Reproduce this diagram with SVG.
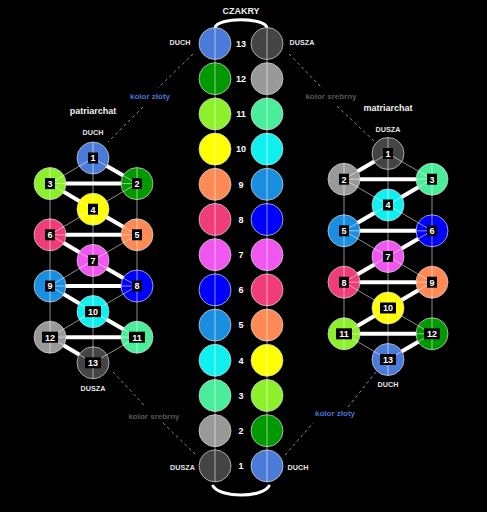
<svg xmlns="http://www.w3.org/2000/svg" width="487" height="512" viewBox="0 0 487 512">
<style>
.bg{fill:#000}
.c{stroke:#d0d0d0;stroke-opacity:.75;stroke-width:1}
.thick line{stroke:#fff;stroke-width:4}
.thin line{stroke:#fff;stroke-opacity:.55;stroke-width:1}
.dash line{stroke:#8a8a8a;stroke-width:1;stroke-dasharray:3 3}
.lb{fill:#000}
.num{font-family:"Liberation Sans",Arial,sans-serif;font-weight:bold;font-size:9px;fill:#fff;text-anchor:middle}
.cn{font-family:"Liberation Sans",Arial,sans-serif;font-weight:bold;font-size:9px;fill:#fff;text-anchor:middle}
.lab{font-family:"Liberation Sans",Arial,sans-serif;font-weight:bold;font-size:7.2px;fill:#e6e6e6;text-anchor:middle}
.ttl{font-family:"Liberation Sans",Arial,sans-serif;font-weight:bold;font-size:9px;fill:#f0f0f0;text-anchor:middle}
.kz{font-family:"Liberation Sans",Arial,sans-serif;font-weight:bold;font-size:8px;fill:#4a70d2;text-anchor:middle}
.ks{font-family:"Liberation Sans",Arial,sans-serif;font-weight:bold;font-size:8px;fill:#575757;text-anchor:middle}
.arc{fill:none;stroke:#fff;stroke-width:3;stroke-linecap:round}
</style>
<defs>
<mask id="lm" maskUnits="userSpaceOnUse" x="0" y="0" width="487" height="512">
<rect x="0" y="0" width="487" height="512" fill="#fff"/>
<g fill="#000">
<rect x="88" y="152.5" width="10" height="11"/><rect x="132" y="178.1" width="10" height="11"/><rect x="45" y="178.1" width="10" height="11"/>
<rect x="88" y="203.7" width="10" height="11"/><rect x="132" y="229.3" width="10" height="11"/><rect x="45" y="229.3" width="10" height="11"/>
<rect x="88" y="254.9" width="10" height="11"/><rect x="132" y="280.5" width="10" height="11"/><rect x="45" y="280.5" width="10" height="11"/>
<rect x="85" y="306.1" width="16" height="11"/><rect x="129" y="331.7" width="16" height="11"/><rect x="42" y="331.7" width="16" height="11"/>
<rect x="85" y="357.3" width="16" height="11"/>
<rect x="383" y="148" width="10" height="11"/><rect x="339" y="173.7" width="10" height="11"/><rect x="427" y="173.7" width="10" height="11"/>
<rect x="383" y="199.5" width="10" height="11"/><rect x="339" y="225.3" width="10" height="11"/><rect x="427" y="225.3" width="10" height="11"/>
<rect x="383" y="251" width="10" height="11"/><rect x="339" y="276.7" width="10" height="11"/><rect x="427" y="276.7" width="10" height="11"/>
<rect x="380" y="302.5" width="16" height="11"/><rect x="336" y="328.3" width="16" height="11"/><rect x="424" y="328.3" width="16" height="11"/>
<rect x="380" y="354" width="16" height="11"/>
</g>
</mask>
</defs>
<rect class="bg" x="0" y="0" width="487" height="512"/>

<!-- thick connectors (under nodes) -->
<g id="connectors-thick" class="thick">
<line x1="93" y1="158" x2="137" y2="183.6"/><line x1="137" y1="183.6" x2="50" y2="183.6"/><line x1="50" y1="183.6" x2="93" y2="209.2"/>
<line x1="93" y1="209.2" x2="137" y2="234.8"/><line x1="137" y1="234.8" x2="50" y2="234.8"/><line x1="50" y1="234.8" x2="93" y2="260.4"/>
<line x1="93" y1="260.4" x2="137" y2="286"/><line x1="137" y1="286" x2="50" y2="286"/><line x1="50" y1="286" x2="93" y2="311.6"/>
<line x1="93" y1="311.6" x2="137" y2="337.2"/><line x1="137" y1="337.2" x2="50" y2="337.2"/><line x1="50" y1="337.2" x2="93" y2="362.8"/>
<line x1="388" y1="153.5" x2="344" y2="179.2"/><line x1="344" y1="179.2" x2="432" y2="179.2"/><line x1="432" y1="179.2" x2="388" y2="205"/>
<line x1="388" y1="205" x2="344" y2="230.8"/><line x1="344" y1="230.8" x2="432" y2="230.8"/><line x1="432" y1="230.8" x2="388" y2="256.5"/>
<line x1="388" y1="256.5" x2="344" y2="282.2"/><line x1="344" y1="282.2" x2="432" y2="282.2"/><line x1="432" y1="282.2" x2="388" y2="308"/>
<line x1="388" y1="308" x2="344" y2="333.8"/><line x1="344" y1="333.8" x2="432" y2="333.8"/><line x1="432" y1="333.8" x2="388" y2="359.5"/>
</g>

<!-- central column -->
<g id="czakry-title"><text class="ttl" x="241" y="13.5">CZAKRY</text>
<path class="arc" d="M215,28 C217,17 265,17 267,28"/>
<path class="arc" d="M213,486 C220,498 262,498 269,486"/></g>

<g id="col-duch">
<circle id="d13" class="c" cx="215" cy="43.5" r="16" fill="#4a7bd8"/>
<circle id="d12" class="c" cx="215" cy="78.7" r="16" fill="#009a00"/>
<circle id="d11" class="c" cx="215" cy="113.9" r="16" fill="#8cf02a"/>
<circle id="d10" class="c" cx="215" cy="149.1" r="16" fill="#ffff00"/>
<circle id="d9" class="c" cx="215" cy="184.3" r="16" fill="#ff8a55"/>
<circle id="d8" class="c" cx="215" cy="219.5" r="16" fill="#f03c78"/>
<circle id="d7" class="c" cx="215" cy="254.7" r="16" fill="#f056f0"/>
<circle id="d6" class="c" cx="215" cy="289.9" r="16" fill="#0000ff"/>
<circle id="d5" class="c" cx="215" cy="325.1" r="16" fill="#1a8ee0"/>
<circle id="d4" class="c" cx="215" cy="360.3" r="16" fill="#11f0f0"/>
<circle id="d3" class="c" cx="215" cy="395.5" r="16" fill="#4aee9a"/>
<circle id="d2" class="c" cx="215" cy="430.7" r="16" fill="#999999"/>
<circle id="d1" class="c" cx="215" cy="465.9" r="16" fill="#444444"/>
</g>
<g id="col-dusza">
<circle id="s13" class="c" cx="267" cy="43.5" r="16" fill="#444444"/>
<circle id="s12" class="c" cx="267" cy="78.7" r="16" fill="#999999"/>
<circle id="s11" class="c" cx="267" cy="113.9" r="16" fill="#4aee9a"/>
<circle id="s10" class="c" cx="267" cy="149.1" r="16" fill="#11f0f0"/>
<circle id="s9" class="c" cx="267" cy="184.3" r="16" fill="#1a8ee0"/>
<circle id="s8" class="c" cx="267" cy="219.5" r="16" fill="#0000ff"/>
<circle id="s7" class="c" cx="267" cy="254.7" r="16" fill="#f056f0"/>
<circle id="s6" class="c" cx="267" cy="289.9" r="16" fill="#f03c78"/>
<circle id="s5" class="c" cx="267" cy="325.1" r="16" fill="#ff8a55"/>
<circle id="s4" class="c" cx="267" cy="360.3" r="16" fill="#ffff00"/>
<circle id="s3" class="c" cx="267" cy="395.5" r="16" fill="#8cf02a"/>
<circle id="s2" class="c" cx="267" cy="430.7" r="16" fill="#009a00"/>
<circle id="s1" class="c" cx="267" cy="465.9" r="16" fill="#4a7bd8"/>
</g>
<g id="col-numbers">
<text class="cn" x="241" y="46.8">13</text><text class="cn" x="241" y="82">12</text><text class="cn" x="241" y="117.2">11</text>
<text class="cn" x="241" y="152.4">10</text><text class="cn" x="241" y="187.6">9</text><text class="cn" x="241" y="222.8">8</text>
<text class="cn" x="241" y="258">7</text><text class="cn" x="241" y="293.2">6</text><text class="cn" x="241" y="328.4">5</text>
<text class="cn" x="241" y="363.6">4</text><text class="cn" x="241" y="398.8">3</text><text class="cn" x="241" y="434">2</text>
<text class="cn" x="241" y="469.2">1</text>
</g>
<g id="col-labels">
<text class="lab" x="180" y="45.3">DUCH</text><text class="lab" x="302" y="45.3">DUSZA</text>
<text class="lab" x="182.5" y="469.6">DUSZA</text><text class="lab" x="298" y="469.6">DUCH</text>
</g>

<!-- left tree: patriarchat -->
<g id="patriarchat-labels">
<text class="ttl" x="93" y="114">patriarchat</text>
<text class="lab" x="93" y="134.6">DUCH</text>
<text class="lab" x="93" y="390.6">DUSZA</text>
</g>
<g id="p1"><circle class="c" cx="93" cy="158" r="16" fill="#4a7bd8"/><rect class="lb" x="88" y="152.5" width="10" height="11"/><text class="num" x="93" y="161.3">1</text></g>
<g id="p2"><circle class="c" cx="137" cy="183.6" r="16" fill="#009a00"/><rect class="lb" x="132" y="178.1" width="10" height="11"/><text class="num" x="137" y="186.9">2</text></g>
<g id="p3"><circle class="c" cx="50" cy="183.6" r="16" fill="#8cf02a"/><rect class="lb" x="45" y="178.1" width="10" height="11"/><text class="num" x="50" y="186.9">3</text></g>
<g id="p4"><circle class="c" cx="93" cy="209.2" r="16" fill="#ffff00"/><rect class="lb" x="88" y="203.7" width="10" height="11"/><text class="num" x="93" y="212.5">4</text></g>
<g id="p5"><circle class="c" cx="137" cy="234.8" r="16" fill="#ff8a55"/><rect class="lb" x="132" y="229.3" width="10" height="11"/><text class="num" x="137" y="238.1">5</text></g>
<g id="p6"><circle class="c" cx="50" cy="234.8" r="16" fill="#f03c78"/><rect class="lb" x="45" y="229.3" width="10" height="11"/><text class="num" x="50" y="238.1">6</text></g>
<g id="p7"><circle class="c" cx="93" cy="260.4" r="16" fill="#f056f0"/><rect class="lb" x="88" y="254.9" width="10" height="11"/><text class="num" x="93" y="263.7">7</text></g>
<g id="p8"><circle class="c" cx="137" cy="286" r="16" fill="#0000ff"/><rect class="lb" x="132" y="280.5" width="10" height="11"/><text class="num" x="137" y="289.3">8</text></g>
<g id="p9"><circle class="c" cx="50" cy="286" r="16" fill="#1a8ee0"/><rect class="lb" x="45" y="280.5" width="10" height="11"/><text class="num" x="50" y="289.3">9</text></g>
<g id="p10"><circle class="c" cx="93" cy="311.6" r="16" fill="#11f0f0"/><rect class="lb" x="85" y="306.1" width="16" height="11"/><text class="num" x="93" y="314.9">10</text></g>
<g id="p11"><circle class="c" cx="137" cy="337.2" r="16" fill="#4aee9a"/><rect class="lb" x="129" y="331.7" width="16" height="11"/><text class="num" x="137" y="340.5">11</text></g>
<g id="p12"><circle class="c" cx="50" cy="337.2" r="16" fill="#999999"/><rect class="lb" x="42" y="331.7" width="16" height="11"/><text class="num" x="50" y="340.5">12</text></g>
<g id="p13"><circle class="c" cx="93" cy="362.8" r="16" fill="#444444"/><rect class="lb" x="85" y="357.3" width="16" height="11"/><text class="num" x="93" y="366.1">13</text></g>

<!-- right tree: matriarchat -->
<g id="matriarchat-labels">
<text class="ttl" x="388" y="111">matriarchat</text>
<text class="lab" x="388" y="131.6">DUSZA</text>
<text class="lab" x="388" y="386.6">DUCH</text>
</g>
<g id="m1"><circle class="c" cx="388" cy="153.5" r="16" fill="#444444"/><rect class="lb" x="383" y="148" width="10" height="11"/><text class="num" x="388" y="156.8">1</text></g>
<g id="m2"><circle class="c" cx="344" cy="179.2" r="16" fill="#999999"/><rect class="lb" x="339" y="173.7" width="10" height="11"/><text class="num" x="344" y="182.5">2</text></g>
<g id="m3"><circle class="c" cx="432" cy="179.2" r="16" fill="#4aee9a"/><rect class="lb" x="427" y="173.7" width="10" height="11"/><text class="num" x="432" y="182.5">3</text></g>
<g id="m4"><circle class="c" cx="388" cy="205" r="16" fill="#11f0f0"/><rect class="lb" x="383" y="199.5" width="10" height="11"/><text class="num" x="388" y="208.3">4</text></g>
<g id="m5"><circle class="c" cx="344" cy="230.8" r="16" fill="#1a8ee0"/><rect class="lb" x="339" y="225.3" width="10" height="11"/><text class="num" x="344" y="234.1">5</text></g>
<g id="m6"><circle class="c" cx="432" cy="230.8" r="16" fill="#0000ff"/><rect class="lb" x="427" y="225.3" width="10" height="11"/><text class="num" x="432" y="234.1">6</text></g>
<g id="m7"><circle class="c" cx="388" cy="256.5" r="16" fill="#f056f0"/><rect class="lb" x="383" y="251" width="10" height="11"/><text class="num" x="388" y="259.8">7</text></g>
<g id="m8"><circle class="c" cx="344" cy="282.2" r="16" fill="#f03c78"/><rect class="lb" x="339" y="276.7" width="10" height="11"/><text class="num" x="344" y="285.5">8</text></g>
<g id="m9"><circle class="c" cx="432" cy="282.2" r="16" fill="#ff8a55"/><rect class="lb" x="427" y="276.7" width="10" height="11"/><text class="num" x="432" y="285.5">9</text></g>
<g id="m10"><circle class="c" cx="388" cy="308" r="16" fill="#ffff00"/><rect class="lb" x="380" y="302.5" width="16" height="11"/><text class="num" x="388" y="311.3">10</text></g>
<g id="m11"><circle class="c" cx="344" cy="333.8" r="16" fill="#8cf02a"/><rect class="lb" x="336" y="328.3" width="16" height="11"/><text class="num" x="344" y="337.1">11</text></g>
<g id="m12"><circle class="c" cx="432" cy="333.8" r="16" fill="#009a00"/><rect class="lb" x="424" y="328.3" width="16" height="11"/><text class="num" x="432" y="337.1">12</text></g>
<g id="m13"><circle class="c" cx="388" cy="359.5" r="16" fill="#4a7bd8"/><rect class="lb" x="380" y="354" width="16" height="11"/><text class="num" x="388" y="362.8">13</text></g>

<!-- thin connectors (drawn over circles, masked at label boxes) -->
<g id="connectors-thin" class="thin" mask="url(#lm)">
<line x1="215" y1="27.5" x2="215" y2="481.9"/><line x1="267" y1="27.5" x2="267" y2="481.9"/>
<line x1="50" y1="167.6" x2="50" y2="353.2"/><line x1="93" y1="142" x2="93" y2="378.8"/><line x1="137" y1="167.6" x2="137" y2="353.2"/>
<line x1="50" y1="183.6" x2="137" y2="183.6"/><line x1="50" y1="234.8" x2="137" y2="234.8"/><line x1="50" y1="286" x2="137" y2="286"/><line x1="50" y1="337.2" x2="137" y2="337.2"/>
<line x1="93" y1="158" x2="50" y2="183.6"/><line x1="93" y1="158" x2="137" y2="183.6"/>
<line x1="50" y1="183.6" x2="93" y2="209.2"/><line x1="137" y1="183.6" x2="93" y2="209.2"/>
<line x1="93" y1="209.2" x2="50" y2="234.8"/><line x1="93" y1="209.2" x2="137" y2="234.8"/>
<line x1="50" y1="234.8" x2="93" y2="260.4"/><line x1="137" y1="234.8" x2="93" y2="260.4"/>
<line x1="93" y1="260.4" x2="50" y2="286"/><line x1="93" y1="260.4" x2="137" y2="286"/>
<line x1="50" y1="286" x2="93" y2="311.6"/><line x1="137" y1="286" x2="93" y2="311.6"/>
<line x1="93" y1="311.6" x2="50" y2="337.2"/><line x1="93" y1="311.6" x2="137" y2="337.2"/>
<line x1="50" y1="337.2" x2="93" y2="362.8"/><line x1="137" y1="337.2" x2="93" y2="362.8"/>
<line x1="344" y1="163.2" x2="344" y2="349.8"/><line x1="388" y1="137.5" x2="388" y2="375.5"/><line x1="432" y1="163.2" x2="432" y2="349.8"/>
<line x1="344" y1="179.2" x2="432" y2="179.2"/><line x1="344" y1="230.8" x2="432" y2="230.8"/><line x1="344" y1="282.2" x2="432" y2="282.2"/><line x1="344" y1="333.8" x2="432" y2="333.8"/>
<line x1="388" y1="153.5" x2="344" y2="179.2"/><line x1="388" y1="153.5" x2="432" y2="179.2"/>
<line x1="344" y1="179.2" x2="388" y2="205"/><line x1="432" y1="179.2" x2="388" y2="205"/>
<line x1="388" y1="205" x2="344" y2="230.8"/><line x1="388" y1="205" x2="432" y2="230.8"/>
<line x1="344" y1="230.8" x2="388" y2="256.5"/><line x1="432" y1="230.8" x2="388" y2="256.5"/>
<line x1="388" y1="256.5" x2="344" y2="282.2"/><line x1="388" y1="256.5" x2="432" y2="282.2"/>
<line x1="344" y1="282.2" x2="388" y2="308"/><line x1="432" y1="282.2" x2="388" y2="308"/>
<line x1="388" y1="308" x2="344" y2="333.8"/><line x1="388" y1="308" x2="432" y2="333.8"/>
<line x1="344" y1="333.8" x2="388" y2="359.5"/><line x1="432" y1="333.8" x2="388" y2="359.5"/>
</g>

<!-- dashed colour connectors -->
<g id="connectors-dashed" class="dash">
<line x1="193" y1="54" x2="158" y2="88"/><line x1="143" y1="107" x2="108" y2="142"/>
<line x1="289" y1="54" x2="322" y2="88"/><line x1="337" y1="106" x2="374" y2="141"/>
<line x1="113" y1="372" x2="145" y2="406"/><line x1="163" y1="423" x2="196" y2="455"/>
<line x1="285" y1="455" x2="313" y2="423"/><line x1="348" y1="407" x2="376" y2="372"/>
</g>
<g id="dashed-labels">
<text class="kz" x="150" y="99">kolor złoty</text>
<text class="ks" x="331" y="99">kolor srebrny</text>
<text class="ks" x="154" y="419">kolor srebrny</text>
<text class="kz" x="335" y="416">kolor złoty</text>
</g>
</svg>
